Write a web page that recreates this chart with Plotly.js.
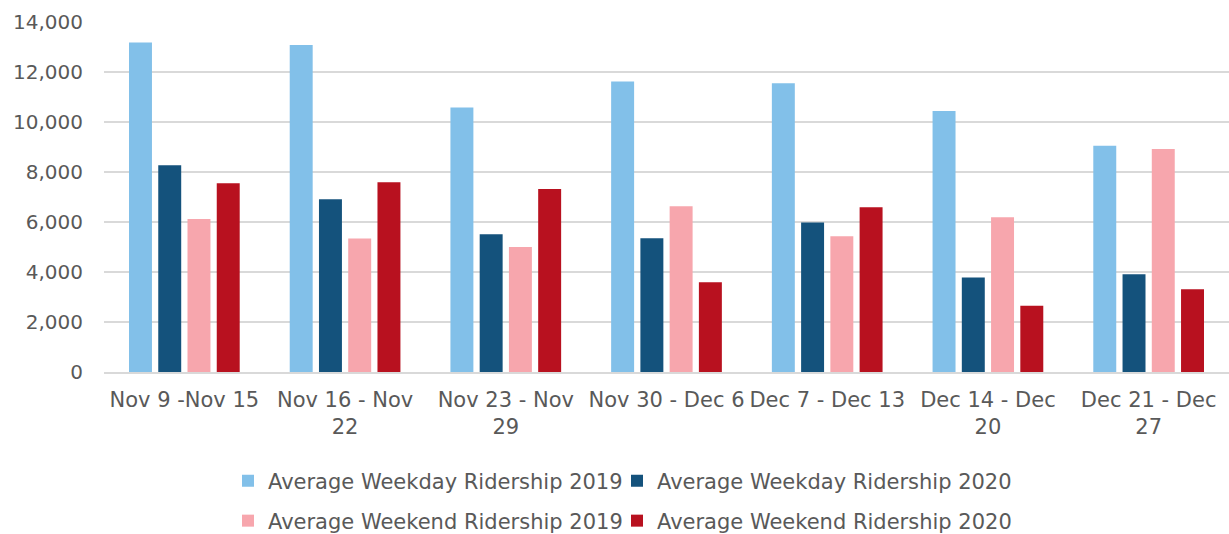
<!DOCTYPE html>
<html>
<head>
<meta charset="utf-8">
<script src="https://cdn.plot.ly/plotly-3.0.1.min.js"></script>
<style>html,body{margin:0;padding:0;background:#fff;}#chart{width:1229px;height:534px;}</style>
</head>
<body>
<div id="chart"></div>
<script>
const categories = ["Nov 9 -Nov 15", "Nov 16 - Nov<br>22", "Nov 23 - Nov<br>29", "Nov 30 - Dec 6", "Dec 7 - Dec 13", "Dec 14 - Dec<br>20", "Dec 21 - Dec<br>27"];
const weekday2019 = [13180, 13080, 10580, 11620, 11550, 10440, 9050];
const weekday2020 = [8270, 6910, 5510, 5350, 5980, 3780, 3910];
const weekend2019 = [6120, 5340, 5000, 6630, 5430, 6190, 8920];
const weekend2020 = [7550, 7590, 7320, 3590, 6590, 2650, 3310];
const seriesNames = ["Average Weekday Ridership 2019", "Average Weekday Ridership 2020", "Average Weekend Ridership 2019", "Average Weekend Ridership 2020"];
const yTicks = [0, 2000, 4000, 6000, 8000, 10000, 12000, 14000];

const colors = ["#82C0E9", "#14527C", "#F7A6AD", "#B8111F"];
const series = [weekday2019, weekday2020, weekend2019, weekend2020];
const legendIds = ["legend", "legend2", "legend3", "legend4"];

const traces = series.map((vals, i) => ({
  type: "bar",
  x: categories,
  y: vals,
  name: seriesNames[i],
  marker: {color: colors[i], line: {width: 0}},
  legend: legendIds[i],
  hoverinfo: "x+y+name"
}));

const font = {family: "DejaVu Sans, Arial, sans-serif", color: "#595959"};
function legendAt(xpx, ypx) {
  return {
    orientation: "h",
    xref: "container", yref: "container",
    xanchor: "left", yanchor: "middle",
    x: xpx / 1229,
    y: 1 - ypx / 534,
    font: Object.assign({size: 21}, font),
    bgcolor: "rgba(0,0,0,0)"
  };
}

const layout = {
  width: 1229, height: 534,
  margin: {l: 104, r: 0, t: 22, b: 162, pad: 0},
  paper_bgcolor: "#fff", plot_bgcolor: "#fff",
  barmode: "group",
  bargap: 0.272,
  bargroupgap: 0.215,
  font: Object.assign({size: 20}, font),
  showlegend: true,
  legend: legendAt(228, 481),
  legend2: legendAt(617, 481),
  legend3: legendAt(228, 521),
  legend4: legendAt(617, 521),
  xaxis: {
    type: "category",
    tickfont: Object.assign({size: 21}, font),
    tickangle: 0,
    showgrid: false,
    showline: true, linecolor: "#d9d9d9", linewidth: 1.5,
    ticks: "", ticklabelstandoff: 8,
    automargin: false
  },
  yaxis: {
    range: [0, 14000],
    tickvals: yTicks,
    tickformat: ",d",
    tickfont: Object.assign({size: 20}, font),
    showgrid: true, gridcolor: "#d9d9d9", gridwidth: 1.5,
    zeroline: false,
    showline: false,
    ticks: "", ticklabelstandoff: 20,
    automargin: false
  }
};

Plotly.newPlot("chart", traces, layout, {displayModeBar: false, staticPlot: true});
</script>
</body>
</html>
